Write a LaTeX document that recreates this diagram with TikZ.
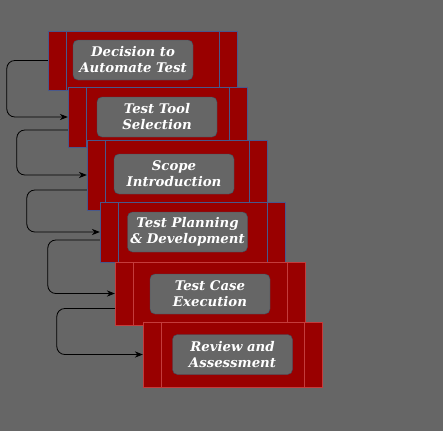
\documentclass[tikz,border=0pt]{standalone}
\usepackage{fontspec}
\setmainfont{DejaVu Serif}
\usepackage{xcolor}
\usetikzlibrary{arrows.meta, positioning}

\definecolor{bggray}{RGB}{102,102,102}
\definecolor{stagered}{RGB}{153,0,0}
\definecolor{edgeblue}{RGB}{72,88,140}
\definecolor{edgered}{RGB}{196,60,60}
\definecolor{tagedge}{RGB}{62,78,98}

\begin{document}
\begin{tikzpicture}[
  x=1pt, y=-1pt,
  stage/.style={rectangle, draw=edgeblue, fill=stagered, inner sep=0pt, minimum height=60pt,
    path picture={\draw[edgeblue] ([xshift=18pt]path picture bounding box.south west) -- ([xshift=18pt]path picture bounding box.north west);
      \draw[edgeblue] ([xshift=-18pt]path picture bounding box.south east) -- ([xshift=-18pt]path picture bounding box.north east);}},
  stagelate/.style={stage, draw=edgered,
    path picture={\draw[edgered] ([xshift=18pt]path picture bounding box.south west) -- ([xshift=18pt]path picture bounding box.north west);
      \draw[edgered] ([xshift=-18pt]path picture bounding box.south east) -- ([xshift=-18pt]path picture bounding box.north east);}},
  stagetext/.style={rectangle, rounded corners=5pt, draw=tagedge, fill=bggray, minimum width=120pt, minimum height=40pt,
    inner sep=0pt, align=center, text=white, font=\fontsize{13.3}{16}\selectfont\bfseries\itshape},
  arrow/.style={-{Stealth[length=2.8mm, width=2.2mm]}, line width=0.8pt, rounded corners=8pt}
]
\useasboundingbox[fill=bggray] (0,0) rectangle (443,431);

% stages
\node[stage, minimum width=189pt, minimum height=59pt] (dec) at (142.5,60.5) {};
\node[stagetext] (decT) at (133,60) {Decision to\\Automate Test};
\node[stage, minimum width=179pt] (tool) at (157.5,117) {};
\node[stagetext] (toolT) at (157,117) {Test Tool\\Selection};
\node[stage, minimum width=180pt, minimum height=70pt] (scope) at (177,175) {};
\node[stagetext] (scopeT) at (174,174) {Scope\\Introduction};
\node[stage, minimum width=185pt] (plan) at (192.5,232) {};
\node[stagetext] (planT) at (187.5,232) {Test Planning\\\& Development};
\node[stagelate, minimum width=190pt, minimum height=63pt] (exec) at (210,293.5) {};
\node[stagetext] (execT) at (210,294) {Test Case\\Execution};
\node[stagelate, minimum width=179pt, minimum height=65pt] (review) at (232.5,354.5) {};
\node[stagetext] (reviewT) at (232.5,354.5) {Review and\\Assessment};

% connectors
\draw[arrow] (dec.west) -- ++(-41,0) |- (tool.west);
\draw[arrow] ([yshift=-13pt]tool.west) -- ++(-51,0) |- (scope.west);
\draw[arrow] ([yshift=-15pt]scope.west) -- ++(-60,0) |- (plan.west);
\draw[arrow] ([yshift=-8pt]plan.west) -- ++(-52,0) |- (exec.west);
\draw[arrow] ([yshift=-15pt]exec.west) -- ++(-58,0) |- (review.west);
\end{tikzpicture}
\end{document}
